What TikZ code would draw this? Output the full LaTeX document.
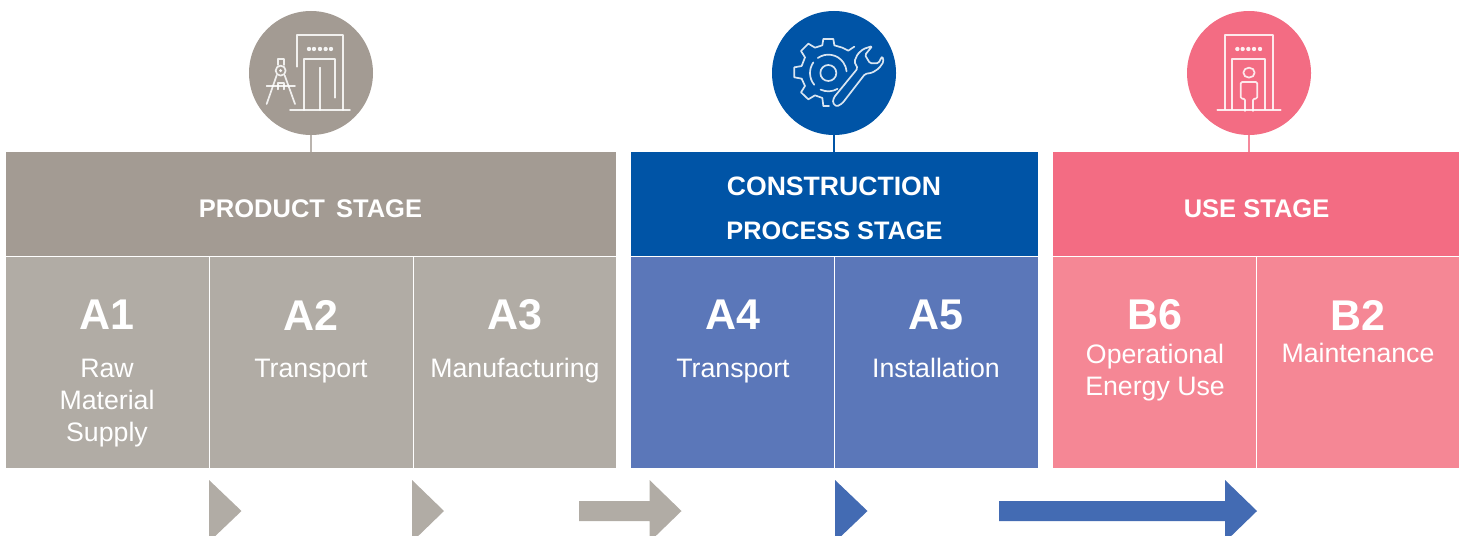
\documentclass[tikz,border=0pt]{standalone}
\usepackage{fontspec}
\setmainfont{Liberation Sans}
\definecolor{ghead}{HTML}{A39B93}
\definecolor{gcell}{HTML}{B1ACA5}
\definecolor{bhead}{HTML}{0054A6}
\definecolor{bcell}{HTML}{5B77B9}
\definecolor{phead}{HTML}{F36C83}
\definecolor{pcell}{HTML}{F58795}
\definecolor{barrow}{HTML}{436BB3}
\newcommand{\hfs}[1]{\fontsize{#1}{44}\selectfont\bfseries}
\tikzset{
  headbox/.style={rectangle,minimum height=104pt,inner sep=0pt,outer sep=0pt},
  headtext/.style={text=white,inner sep=0pt,anchor=base},
  cellbox/.style={rectangle,minimum height=211pt,inner sep=0pt,outer sep=0pt},
  badge/.style={circle,minimum size=124pt,inner sep=0pt,outer sep=0pt},
  code/.style={text=white,inner sep=0pt,font=\fontsize{43}{43}\selectfont\bfseries},
  desc/.style={text=white,inner sep=0pt,align=center,anchor=base,font=\fontsize{26.7}{32}\selectfont},
  stem/.style={line width=1.1pt},
  icon/.style={draw=white,line width=1.7pt,line join=round,line cap=round,fill=none,opacity=.85},
  dot/.style={fill=white,draw=none,opacity=.9}
}
\begin{document}
\begin{tikzpicture}[x=1pt,y=-1pt]
\useasboundingbox (0,0) rectangle (1463,535);
% headers
\node[headbox,fill=ghead,minimum width=610pt] (hp) at (311,204) {};
\node[headbox,fill=bhead,minimum width=407pt] (hc) at (834.5,204) {};
\node[headbox,fill=phead,minimum width=406pt] (hu) at (1256,204) {};
\node[headtext,font=\hfs{25.5}] (tp) at (310.5,217) {PRODUCT\hspace{4pt} STAGE};
\node[headtext,font=\hfs{26.6}] (tc) at (834,195) {CONSTRUCTION};
\node[headtext,font=\hfs{25.3}] (tq) at (834.5,239) {PROCESS STAGE};
\node[headtext,font=\hfs{25.5}] (tu) at (1256.5,217) {USE STAGE};
% cells
\node[cellbox,fill=gcell,minimum width=203pt] (c1) at (107.5,362.5) {};
\node[cellbox,fill=gcell,minimum width=202.5pt] (c2) at (311.25,362.5) {};
\node[cellbox,fill=gcell,minimum width=202.5pt] (c3) at (514.75,362.5) {};
\node[cellbox,fill=bcell,minimum width=203pt] (c4) at (732.5,362.5) {};
\node[cellbox,fill=bcell,minimum width=203pt] (c5) at (936.5,362.5) {};
\node[cellbox,fill=pcell,minimum width=203pt] (c6) at (1154.5,362.5) {};
\node[cellbox,fill=pcell,minimum width=202pt] (c7) at (1358,362.5) {};
% cell texts
\node[code] (a1) at (107,315) {A1};
\node[code] (a2) at (311,315) {A2};
\node[code] (a3) at (515,315) {A3};
\node[code] (a4) at (733,315) {A4};
\node[code] (a5) at (936,315) {A5};
\node[code] (b6) at (1155,315) {B6};
\node[code] (b2) at (1358,315) {B2};
\node[desc,anchor=north] (d1) at (107,359) {Raw\\Material\\Supply};
\node[desc] (d2) at (311,377) {Transport};
\node[desc] (d3) at (515,377) {Manufacturing};
\node[desc] (d4) at (733,377) {Transport};
\node[desc] (d5) at (936,377) {Installation};
\node[desc,anchor=north] (d6) at (1155,343.5) {Operational\\Energy Use};
\node[desc] (d7) at (1358,362) {Maintenance};
% badges and stems
\node[badge,fill=ghead] (cp) at (311,73) {};
\node[badge,fill=bhead] (cc) at (834,73) {};
\node[badge,fill=phead] (cu) at (1249,73) {};
\draw[stem,draw=ghead!75!white] (cp.south) -- (cp.south |- hp.north);
\draw[stem,draw=bhead] (cc.south) -- (cc.south |- hc.north);
\draw[stem,draw=phead!80!white] (cu.south) -- (cu.south |- hu.north);
% icon: product
\begin{scope}[shift={(240,0)},x=.3333pt,y=-.3333pt]
\draw[icon] (172,200) -- (172,105) -- (308,105) -- (308,330);
\draw[icon] (192,330) -- (192,178) -- (286,178) -- (286,293);
\draw[icon] (240,203) -- (240,330);
\draw[icon] (150,330) -- (330,330);
\foreach \xx in {207,222,240,257,273} \fill[dot] (\xx,147) circle (6.5);
\draw[icon] (113,195) -- (113,176) -- (133,176) -- (133,195);
\draw[icon] (122,212) circle (15);
\fill[dot] (122,212) circle (5);
\draw[icon] (80,258) -- (165,258);
\draw[icon] (110,226) -- (80,312);
\draw[icon] (134,226) -- (165,312);
\draw[icon] (113,268) -- (113,250) -- (131,250) -- (131,268);
\end{scope}
% icon: gear and wrench
\begin{scope}[shift={(765,0)},x=.3333pt,y=-.3333pt]
\draw[icon] (268,140) -- (250,152) -- (232,143) -- (208,136) -- (205,117) -- (175,117) -- (172,136)
 -- (150,143) -- (130,131) -- (108,153) -- (120,172) -- (110,198) -- (88,202) -- (88,232) -- (110,236)
 -- (120,258) -- (108,277) -- (130,298) -- (150,286) -- (172,294) -- (175,318) -- (192,318);
\draw[icon] (190,219) ++(140:55) arc[start angle=140,end angle=215,radius=55];
\draw[icon] (190,219) ++(235:55) arc[start angle=235,end angle=355,radius=55];
\draw[icon] (190,219) ++(60:55) arc[start angle=60,end angle=115,radius=55];
\draw[icon] (190,219) circle (24);
\draw[icon,rounded corners=1.5pt] (268,185) -- (278,162) -- (295,147) -- (322,138) -- (300,165) -- (315,190) -- (340,190) -- (352,168) -- (356,185) -- (342,205) -- (322,218) -- (300,222)
 -- (232,310) -- (215,320) -- (203,308) -- (207,292) -- (278,205) -- cycle;
\end{scope}
% icon: person door
\begin{scope}[shift={(1180,0)},x=.3333pt,y=-.3333pt]
\draw[icon] (135,328) -- (135,105) -- (278,105) -- (278,328);
\draw[icon] (157,328) -- (157,177) -- (256,177) -- (256,328);
\draw[icon] (112,329) -- (302,329);
\foreach \xx in {172,188,205,222,240} \fill[dot] (\xx,147) circle (6.5);
\draw[icon] (207,218) ellipse (17 and 15);
\draw[icon,rounded corners=1.5pt] (195,333) -- (195,296) -- (182,296) -- (182,246) -- (232,246) -- (232,296) -- (219,296) -- (219,333);
\end{scope}
% arrows
\fill[gcell] (209,480) -- (241.5,511) -- (209,542) -- cycle;
\fill[gcell] (412,480) -- (444,511) -- (412,542) -- cycle;
\fill[gcell] (579,501) -- (649.5,501) -- (649.5,480) -- (681.5,511) -- (649.5,542) -- (649.5,521) -- (579,521) -- cycle;
\fill[barrow] (835,480) -- (867.5,511) -- (835,542) -- cycle;
\fill[barrow] (999,501) -- (1225,501) -- (1225,480) -- (1257,511) -- (1225,542) -- (1225,521) -- (999,521) -- cycle;
\end{tikzpicture}
\end{document}
